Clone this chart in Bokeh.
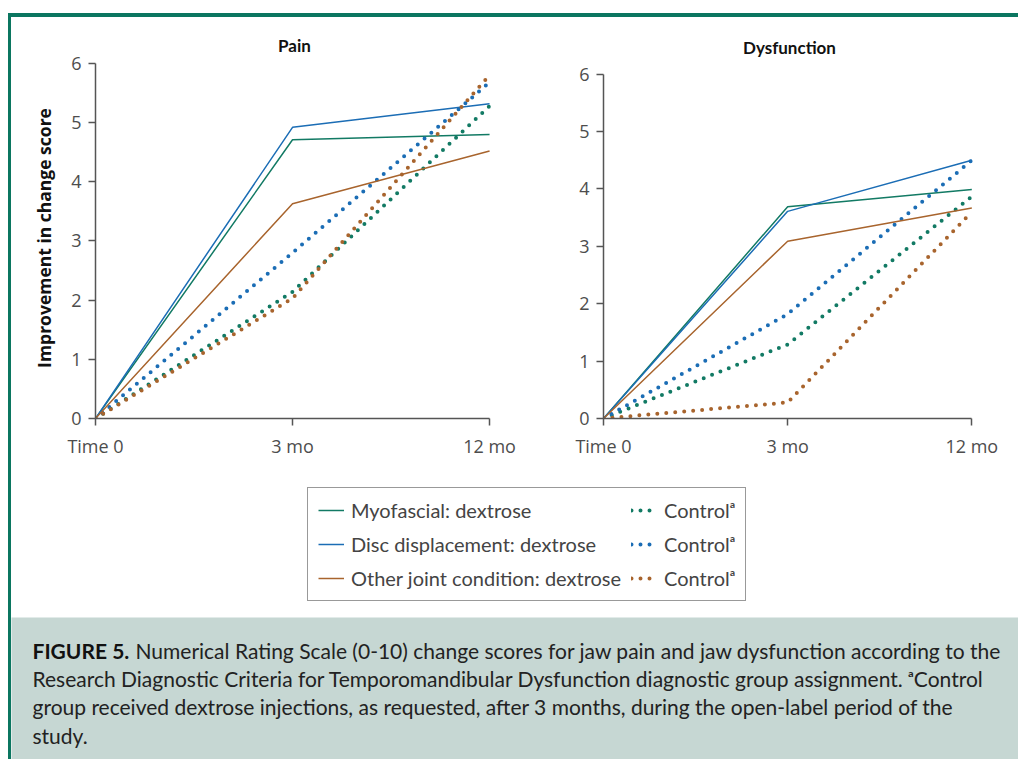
from bokeh.plotting import figure
from bokeh.models import Range1d, FixedTicker, Legend, LegendItem, Spacer, Div
from bokeh.layouts import column, row
from bokeh.core.properties import value
from bokeh.embed import file_html
from bokeh.resources import INLINE

# ---------------- data ----------------
TIME_LABELS = ["Time 0", "3 mo", "12 mo"]
TIME_IDX = [0, 1, 2]
Y_TICKS = [0, 1, 2, 3, 4, 5, 6]

PAIN_MYO_DEX = [0, 4.71, 4.80]
PAIN_DISC_DEX = [0, 4.92, 5.32]
PAIN_OTHER_DEX = [0, 3.63, 4.52]
PAIN_MYO_CTRL = [0, 2.14, 5.28]
PAIN_DISC_CTRL = [0, 2.80, 5.68]
PAIN_OTHER_CTRL = [0, 2.03, 5.80]

DYS_MYO_DEX = [0, 3.69, 3.99]
DYS_DISC_DEX = [0, 3.61, 4.50]
DYS_OTHER_DEX = [0, 3.09, 3.67]
DYS_MYO_CTRL = [0, 1.29, 3.87]
DYS_DISC_CTRL = [0, 1.82, 4.50]
DYS_OTHER_CTRL = [0, 0.28, 3.60]

LEGEND_DEX = ["Myofascial: dextrose", "Disc displacement: dextrose",
              "Other joint condition: dextrose"]
LEGEND_CTRL = ["Control\u1d43", "Control\u1d43", "Control\u1d43"]

CAPTION_BOLD = "FIGURE 5."
CAPTION_LINES = [
    "Numerical Rating Scale (0-10) change scores for jaw pain and jaw dysfunction according to the",
    "Research Diagnostic Criteria for Temporomandibular Dysfunction diagnostic group assignment. \u1d43Control",
    "group received dextrose injections, as requested, after 3 months, during the open-label period of the",
    "study.",
]

# ---------------- style ----------------
COLORS = ["#127a64", "#1b6db5", "#a8642d"]
FRAME_GREEN = "#0b7660"
CAP_BG = "#c6d7d3"
AXIS_COLOR = "#555555"
TICK_TEXT = "#4d4d4d"
FONT = "Lato"
TICK_FONT = "Open Sans"
DOT_DASH = "0 9"
DOT_WIDTH = 4


def no_align(p):
    try:
        p.frame_align = False
    except AttributeError:
        pass


def plain_fig(width, height, **kw):
    p = figure(width=width, height=height, output_backend="svg", toolbar_location=None,
               min_border=0, x_axis_location=None, y_axis_location=None, title=None, **kw)
    no_align(p)
    p.outline_line_color = None
    p.grid.visible = False
    return p


def make_panel(title, dex, ctrl, width, mbl, mbr, mbt, ylabel=None, title_standoff=5):
    p = figure(width=width, height=453, x_range=Range1d(0, 2.02), y_range=Range1d(0, 6.1),
               output_backend="svg", toolbar_location=None,
               min_border_left=mbl, min_border_right=mbr, min_border_top=mbt,
               min_border_bottom=52, title=title)
    no_align(p)
    p.title.align = "center"
    p.title.text_font = FONT
    p.title.text_font_size = "17px"
    p.title.text_font_style = "bold"
    p.title.text_color = "#111111"
    p.title.standoff = title_standoff
    p.outline_line_color = None
    p.grid.visible = False

    p.xaxis.ticker = FixedTicker(ticks=TIME_IDX)
    p.xaxis.major_label_overrides = {i: lab for i, lab in zip(TIME_IDX, TIME_LABELS)}
    p.yaxis.ticker = FixedTicker(ticks=Y_TICKS)
    p.xaxis.bounds = (0, 2)
    p.yaxis.bounds = (0, 6)
    for ax in (p.xaxis, p.yaxis):
        ax.axis_line_color = AXIS_COLOR
        ax.axis_line_width = 1.5
        ax.major_tick_line_color = AXIS_COLOR
        ax.major_tick_line_width = 1.5
        ax.minor_tick_line_color = None
        ax.major_tick_in = 0
        ax.major_tick_out = 7
        ax.major_label_text_font = TICK_FONT
        ax.major_label_text_font_size = "18px"
        ax.major_label_text_color = TICK_TEXT
    p.xaxis.major_label_standoff = 8
    p.yaxis.major_label_standoff = 7
    if ylabel:
        p.yaxis.axis_label = ylabel
        p.yaxis.axis_label_text_font = "Open Sans"
        p.yaxis.axis_label_text_font_size = "17.5px"
        p.yaxis.axis_label_text_font_style = "bold"
        p.yaxis.axis_label_text_color = "#111111"
        p.yaxis.axis_label_standoff = 12

    for d, c, col in zip(dex, ctrl, COLORS):
        p.line(TIME_IDX, d, line_color=col, line_width=1.5)
        p.line(TIME_IDX, c, line_color=col, line_width=DOT_WIDTH, line_dash=DOT_DASH,
               line_cap="round")
    return p


pain = make_panel("Pain", [PAIN_MYO_DEX, PAIN_DISC_DEX, PAIN_OTHER_DEX],
                  [PAIN_MYO_CTRL, PAIN_DISC_CTRL, PAIN_OTHER_CTRL],
                  width=529, mbl=84, mbr=47, mbt=40,
                  ylabel="Improvement in change score", title_standoff=4)
dys = make_panel("Dysfunction", [DYS_MYO_DEX, DYS_DISC_DEX, DYS_OTHER_DEX],
                 [DYS_MYO_CTRL, DYS_DISC_CTRL, DYS_OTHER_CTRL],
                 width=478, mbl=63, mbr=43, mbt=51, title_standoff=21)

# ---------------- legend panel ----------------
# the legend's own figure draws the pain series outside its visible range,
# so that only the legend (which needs non-empty renderers) is seen
lf = plain_fig(1007, 147, x_range=Range1d(10, 11), y_range=Range1d(10, 11))
dex_items, ctrl_items = [], []
for lab_d, lab_c, col, d, c in zip(LEGEND_DEX, LEGEND_CTRL, COLORS,
                                   [PAIN_MYO_DEX, PAIN_DISC_DEX, PAIN_OTHER_DEX],
                                   [PAIN_MYO_CTRL, PAIN_DISC_CTRL, PAIN_OTHER_CTRL]):
    rd = lf.line(TIME_IDX, d, line_color=col, line_width=1.5)
    rc = lf.line(TIME_IDX, c, line_color=col, line_width=DOT_WIDTH, line_dash=DOT_DASH,
                 line_cap="round")
    dex_items.append(LegendItem(label=lab_d, renderers=[rd]))
    ctrl_items.append(LegendItem(label=lab_c, renderers=[rc]))
legend = Legend(items=dex_items + ctrl_items, location=(296, 16), ncols=2,
                orientation="vertical")
legend.label_text_font = FONT
legend.label_text_font_size = "20px"
legend.label_text_color = "#444444"
legend.glyph_width = 26
legend.glyph_height = 20
legend.label_height = 20
legend.label_standoff = 7
legend.spacing = 10
legend.padding = 10
legend.margin = 0
legend.border_line_color = "#333333"
legend.border_line_width = 1
legend.background_fill_color = "white"
legend.background_fill_alpha = 1
lf.add_layout(legend)

# ---------------- caption panel ----------------
cf = plain_fig(1007, 142, x_range=Range1d(0, 1007), y_range=Range1d(142, 0),
               background_fill_color=CAP_BG, border_fill_color=CAP_BG)
line_y = [33 + 28.2 * i for i in range(len(CAPTION_LINES))]
cf.text(x=[21], y=[line_y[0]], text=[CAPTION_BOLD], text_font=value(FONT),
        text_font_size="21px", text_font_style="bold", text_color="#111111",
        text_baseline="middle", text_align="left")
cf.text(x=[124] + [21] * (len(CAPTION_LINES) - 1), y=line_y, text=CAPTION_LINES,
        text_font=value(FONT), text_font_size="21px", text_color="#222222",
        text_baseline="middle", text_align="left")

# ---------------- frame (plain coloured boxes, no text) ----------------
top_bar = Div(text="", width=1010, height=4, margin=0,
              styles={"background-color": FRAME_GREEN})
left_bar = Div(text="", width=3, height=742, margin=0,
               styles={"background-color": FRAME_GREEN})

content = column(row(pain, dys), lf, cf)
page = column(Spacer(width=1018, height=13, margin=0),
              row(Spacer(width=8, height=4, margin=0), top_bar),
              row(Spacer(width=8, height=742, margin=0), left_bar, content))

open("out.html", "w").write(file_html(page, INLINE))
